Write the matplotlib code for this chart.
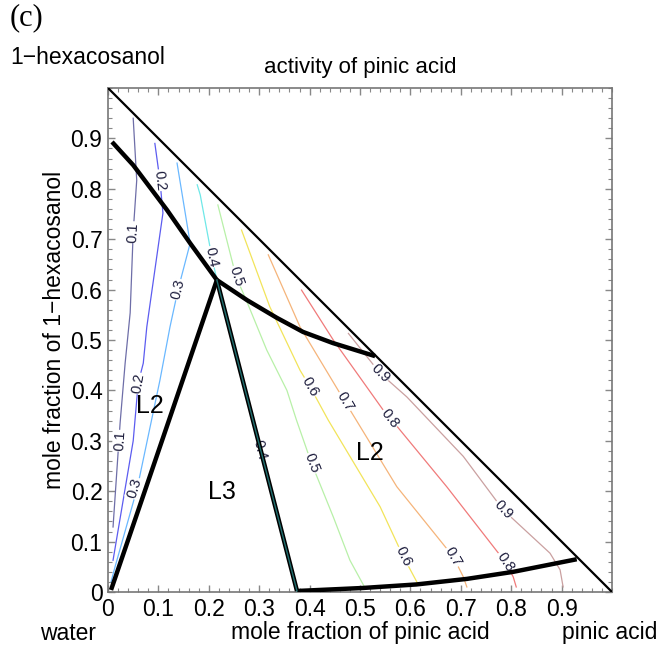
import matplotlib
matplotlib.use("Agg")
import matplotlib.pyplot as plt
from matplotlib.ticker import MultipleLocator, FixedLocator

plt.rcParams["font.family"] = ["Liberation Sans", "DejaVu Sans"]

# phase boundaries (mole fraction pinic acid, mole fraction 1-hexacosanol)
diag_x = [0.0, 1.0]
diag_y = [1.0, 0.0]
upper_left_x = [0.008, 0.05, 0.117, 0.163, 0.216]
upper_left_y = [0.893, 0.847, 0.758, 0.692, 0.619]
upper_right_x = [0.216, 0.276, 0.335, 0.387, 0.446, 0.53]
upper_right_y = [0.619, 0.579, 0.544, 0.516, 0.494, 0.468]
left_edge_x = [0.006, 0.216]
left_edge_y = [0.004, 0.619]
right_edge_x = [0.216, 0.375]
right_edge_y = [0.619, 0.002]
bottom_x = [0.375, 0.506, 0.612, 0.712, 0.804, 0.93]
bottom_y = [0.002, 0.008, 0.015, 0.026, 0.040, 0.065]

# activity contours of pinic acid
levels = [0.1, 0.2, 0.3, 0.4, 0.5, 0.6, 0.7, 0.8, 0.9]
colors = ["#6e6ea8", "#5c5cf0", "#6ab8ff", "#6fe8e8", "#b8f0a8",
          "#f2e45a", "#f5b47a", "#f07a7a", "#caa0a0"]
contour_x = [
    [0.05, 0.057, 0.05, 0.044, 0.034, 0.024, 0.01],
    [0.093, 0.103, 0.109, 0.077, 0.07, 0.06, 0.05, 0.01],
    [0.137, 0.163, 0.139, 0.123, 0.103, 0.058, 0.014, 0.006],
    [0.177, 0.183, 0.206, 0.216, 0.375],
    [0.218, 0.254, 0.276, 0.315, 0.355, 0.374, 0.404, 0.447, 0.48, 0.51],
    [0.265, 0.321, 0.381, 0.401, 0.437, 0.54, 0.586, 0.616],
    [0.318, 0.381, 0.47, 0.573, 0.685, 0.705, 0.712],
    [0.384, 0.447, 0.546, 0.56, 0.672, 0.788, 0.804, 0.81],
    [0.477, 0.54, 0.593, 0.705, 0.784, 0.877, 0.897, 0.903],
]
contour_y = [
    [0.94, 0.817, 0.714, 0.554, 0.454, 0.335, 0.129],
    [0.89, 0.817, 0.752, 0.526, 0.454, 0.415, 0.30, 0.063],
    [0.851, 0.692, 0.6, 0.526, 0.42, 0.206, 0.05, 0.02],
    [0.808, 0.788, 0.665, 0.619, 0.0],
    [0.768, 0.626, 0.575, 0.48, 0.40, 0.341, 0.255, 0.149, 0.063, 0.008],
    [0.718, 0.566, 0.44, 0.407, 0.341, 0.169, 0.07, 0.014],
    [0.669, 0.526, 0.378, 0.209, 0.07, 0.03, 0.01],
    [0.599, 0.5, 0.361, 0.345, 0.209, 0.06, 0.03, 0.01],
    [0.513, 0.434, 0.387, 0.269, 0.163, 0.077, 0.044, 0.01],
]

# contour labels: x, y, text, angle
label_x = [0.05, 0.103, 0.139, 0.206, 0.254, 0.401, 0.47, 0.56, 0.54,
           0.024, 0.06, 0.053, 0.302, 0.404, 0.586, 0.685, 0.788, 0.784]
label_y = [0.714, 0.817, 0.6, 0.665, 0.626, 0.407, 0.378, 0.345, 0.434,
           0.30, 0.414, 0.206, 0.282, 0.255, 0.07, 0.07, 0.06, 0.163]
label_txt = ["0.1", "0.2", "0.3", "0.4", "0.5", "0.6", "0.7", "0.8", "0.9",
             "0.1", "0.2", "0.3", "0.4", "0.5", "0.6", "0.7", "0.8", "0.9"]
label_rot = [87, -83, 76, -78, -72, -60, -59, -52, -45,
             86, 80, 73, -76, -69, -64, -60, -56, -47]

region_names = ["L2", "L3", "L2"]
region_x = [0.083, 0.226, 0.52]
region_y = [0.37, 0.198, 0.276]

ticks = [0.0, 0.1, 0.2, 0.3, 0.4, 0.5, 0.6, 0.7, 0.8, 0.9]
tick_labels = ["0", "0.1", "0.2", "0.3", "0.4", "0.5", "0.6", "0.7", "0.8", "0.9"]

fig = plt.figure(figsize=(6.62, 6.48), dpi=100)
ax = fig.add_axes([108 / 662, 56 / 648, 504 / 662, 504 / 648])

for xs, ys, c in zip(contour_x, contour_y, colors):
    ax.plot(xs, ys, color=c, lw=0.9, zorder=2)

for x, y, t, r in zip(label_x, label_y, label_txt, label_rot):
    ax.text(x, y, t, rotation=r, rotation_mode="anchor", ha="center", va="center",
            fontsize=10.5, color="#1c1c3c", zorder=3,
            bbox=dict(boxstyle="square,pad=0.05", fc="white", ec="none"))

ax.plot(diag_x, diag_y, color="black", lw=1.6, zorder=5)
for xs, ys in [(upper_left_x, upper_left_y), (upper_right_x, upper_right_y),
               (left_edge_x, left_edge_y), (right_edge_x, right_edge_y),
               (bottom_x, bottom_y)]:
    ax.plot(xs, ys, color="black", lw=3.2, solid_capstyle="butt", zorder=5)
ax.plot(right_edge_x, right_edge_y, color="#2a8c8c", lw=1.0, alpha=0.8, zorder=6)

for name, x, y in zip(region_names, region_x, region_y):
    ax.text(x, y, name, ha="center", va="center", fontsize=18, zorder=4)

ax.set_xlim(0, 1)
ax.set_ylim(0, 1)
ax.xaxis.set_major_locator(FixedLocator(ticks))
ax.yaxis.set_major_locator(FixedLocator(ticks))
ax.set_xticklabels(tick_labels)
ax.set_yticklabels(tick_labels)
ax.xaxis.set_minor_locator(MultipleLocator(0.02))
ax.yaxis.set_minor_locator(MultipleLocator(0.02))
ax.tick_params(which="both", direction="in", top=True, right=True,
               color="#888888", labelsize=16.5, pad=4)
ax.tick_params(which="major", length=5, width=1.0)
ax.tick_params(which="minor", length=3, width=0.8)
for s in ax.spines.values():
    s.set_color("#777777")
    s.set_linewidth(1.2)

fig.text(10 / 662, 1 - 3 / 648, "(c)", family="Liberation Serif", fontsize=22,
         ha="left", va="top")
fig.text(10 / 662, 1 - 57 / 648, "1\u2212hexacosanol", fontsize=16.5, ha="left", va="center")
fig.text(360 / 662, 1 - 67 / 648, "activity of pinic acid", fontsize=16,
         ha="center", va="center")
fig.text(40 / 662, 1 - 633 / 648, "water", fontsize=16.5, ha="left", va="center")
fig.text(360 / 662, 1 - 633 / 648, "mole fraction of pinic acid", fontsize=16.5,
         ha="center", va="center")
fig.text(657 / 662, 1 - 633 / 648, "pinic acid", fontsize=16.5, ha="right", va="center")
fig.text(55 / 662, 1 - 330 / 648, "mole fraction of 1\u2212hexacosanol", fontsize=16.5,
         rotation=90, ha="center", va="center")

fig.savefig("out.png", dpi=100)
